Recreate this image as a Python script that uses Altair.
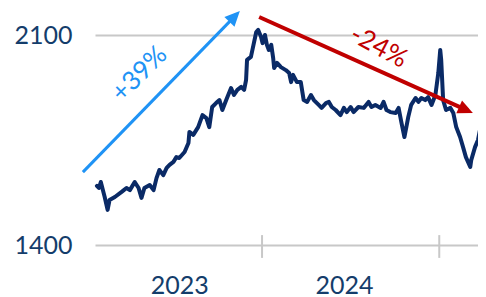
import altair as alt
import pandas as pd

# ---- data ----
dates = [
    "2023-01-25", "2023-01-29", "2023-02-02", "2023-02-10", "2023-02-16", "2023-02-20",
    "2023-03-03", "2023-03-17", "2023-03-27", "2023-04-03", "2023-04-13", "2023-04-21",
    "2023-04-27", "2023-05-03", "2023-05-14", "2023-05-22", "2023-05-28", "2023-06-03",
    "2023-06-11", "2023-06-18", "2023-06-24", "2023-07-02", "2023-07-08", "2023-07-14",
    "2023-07-25", "2023-08-02", "2023-08-04", "2023-08-12", "2023-08-22", "2023-08-31",
    "2023-09-08", "2023-09-14", "2023-09-20", "2023-09-28", "2023-10-05", "2023-10-11",
    "2023-10-19", "2023-10-29", "2023-11-04", "2023-11-11", "2023-11-19", "2023-11-25",
    "2023-11-29", "2023-12-01", "2023-12-09", "2023-12-13", "2023-12-20", "2023-12-24",
    "2023-12-30", "2024-01-02", "2024-01-07", "2024-01-11", "2024-01-15", "2024-01-20",
    "2024-01-24", "2024-01-26", "2024-02-01", "2024-02-09", "2024-02-19", "2024-02-26",
    "2024-03-01", "2024-03-05", "2024-03-13", "2024-03-21", "2024-03-27", "2024-04-03",
    "2024-04-11", "2024-04-17", "2024-04-27", "2024-05-03", "2024-05-12", "2024-05-18",
    "2024-05-24", "2024-06-01", "2024-06-11", "2024-06-18", "2024-06-24", "2024-07-02",
    "2024-07-08", "2024-07-18", "2024-07-29", "2024-08-08", "2024-08-14", "2024-08-22",
    "2024-09-02", "2024-09-08", "2024-09-14", "2024-09-22", "2024-10-03", "2024-10-09",
    "2024-10-15", "2024-10-21", "2024-10-25", "2024-10-29", "2024-11-04", "2024-11-13",
    "2024-11-19", "2024-11-25", "2024-12-03", "2024-12-09", "2024-12-16", "2024-12-24",
    "2024-12-30", "2025-01-03", "2025-01-05", "2025-01-09", "2025-01-15", "2025-01-24",
    "2025-01-30", "2025-02-05", "2025-02-13", "2025-02-19", "2025-02-25", "2025-03-06",
    "2025-03-08", "2025-03-16", "2025-03-22", "2025-03-26",
]
values = [
    1597, 1590, 1610, 1560, 1517, 1550,
    1560, 1577, 1590, 1583, 1610, 1590,
    1557, 1590, 1600, 1583, 1623, 1650,
    1633, 1657, 1667, 1677, 1693, 1690,
    1710, 1740, 1777, 1767, 1793, 1833,
    1823, 1793, 1860, 1873, 1883, 1850,
    1883, 1923, 1900, 1917, 1927, 1917,
    1950, 2017, 2027, 2057, 2110, 2117,
    2093, 2073, 2100, 2067, 2050, 2067,
    2023, 1990, 2007, 1993, 1983, 1973,
    1943, 1967, 1943, 1943, 1883, 1877,
    1900, 1883, 1867, 1857, 1873, 1877,
    1860, 1850, 1833, 1857, 1843, 1860,
    1843, 1860, 1857, 1877, 1860, 1867,
    1857, 1877, 1850, 1843, 1840, 1857,
    1807, 1760, 1793, 1827, 1867, 1890,
    1877, 1890, 1883, 1893, 1867, 1900,
    1973, 2050, 2017, 1883, 1850, 1857,
    1840, 1793, 1760, 1727, 1693, 1660,
    1683, 1727, 1750, 1783,
]

y_ticks = [1400, 2100]
year_bounds = ["2024-01-01", "2025-01-01"]

arrow_start_dates = ["2022-12-27", "2023-12-26"]
arrow_start_values = [1643, 2160]
arrow_end_dates = ["2023-11-09", "2025-03-02"]
arrow_end_values = [2168, 1847]
arrow_angles = [44, 114]
arrow_colors = ["#1f93f5", "#c00000"]
arrow_widths = [3, 4]

pct_texts = ["+39%", "-24%"]
pct_dates = ["2023-04-23", "2024-08-29"]
pct_values = [1970, 2060]
pct_angles = [315, 28]

NAVY = "#0a2a66"
LABEL = "#143d6b"
GRID = "#c8c8c8"
FONT = "Lato"

x_scale = alt.Scale(domain=[alt.DateTime(year=2023, month=1, date=21, utc=True),
                            alt.DateTime(year=2025, month=3, date=22, utc=True)])
y_scale = alt.Scale(domain=[1400, 2190], zero=False, nice=False)

series = pd.DataFrame({"date": dates, "value": values})

line = alt.Chart(series).mark_line(color=NAVY, strokeWidth=4, strokeJoin="round", strokeCap="round").encode(
    x=alt.X("date:T", scale=x_scale, title=None,
            axis=alt.Axis(values=[alt.DateTime(year=2023, month=7, date=14, utc=True),
                                  alt.DateTime(year=2024, month=6, date=18, utc=True)],
                          labelExpr="utcFormat(datum.value, '%Y')",
                          domain=False, ticks=False, grid=False, labelPadding=28,
                          labelFontSize=25, labelColor=LABEL, labelFont=FONT,
                          labelFontWeight="normal")),
    y=alt.Y("value:Q", scale=y_scale, title=None,
            axis=alt.Axis(values=y_ticks, format="d", domain=False, ticks=False, grid=True,
                          gridColor=GRID, gridWidth=2, labelPadding=23,
                          labelFontSize=25, labelColor=LABEL, labelFont=FONT)),
)

ticks_df = pd.DataFrame({"date": year_bounds, "lo": [1357] * 2, "hi": [1433] * 2})
ticks = alt.Chart(ticks_df).mark_rule(color=GRID, strokeWidth=2).encode(
    x="date:T", y="lo:Q", y2="hi:Q")

arrows_df = pd.DataFrame({
    "date": arrow_start_dates, "value": arrow_start_values,
    "date2": arrow_end_dates, "value2": arrow_end_values,
    "angle": arrow_angles, "color": arrow_colors, "w": arrow_widths,
})
shafts = alt.Chart(arrows_df).mark_rule(strokeCap="butt").encode(
    x="date:T", x2="date2:T", y="value:Q", y2="value2:Q",
    color=alt.Color("color:N", scale=None),
    strokeWidth=alt.StrokeWidth("w:Q", scale=None),
)
heads = alt.Chart(arrows_df).mark_point(
    shape="M0,-0.5L0.7,1L-0.7,1Z", size=400, filled=True, opacity=1, strokeWidth=0
).encode(
    x="date2:T", y="value2:Q",
    color=alt.Color("color:N", scale=None),
    angle=alt.Angle("angle:Q", scale=None),
)

pct_df = pd.DataFrame({"date": pct_dates, "value": pct_values, "text": pct_texts,
                       "angle": pct_angles, "color": arrow_colors})
pct = alt.Chart(pct_df).mark_text(font=FONT, fontSize=26, align="center", baseline="middle").encode(
    x="date:T", y="value:Q", text="text:N",
    color=alt.Color("color:N", scale=None),
    angle=alt.Angle("angle:Q", scale=None),
)

chart = alt.layer(line, ticks, shafts, heads, pct).properties(
    width=383, height=237,
    autosize=alt.AutoSizeParams(type="none"),
    padding={"left": 87, "top": 0, "right": 0, "bottom": 52},
).configure_view(strokeWidth=0)

chart.save("out.html", embed_options={"renderer": "svg", "actions": False})
